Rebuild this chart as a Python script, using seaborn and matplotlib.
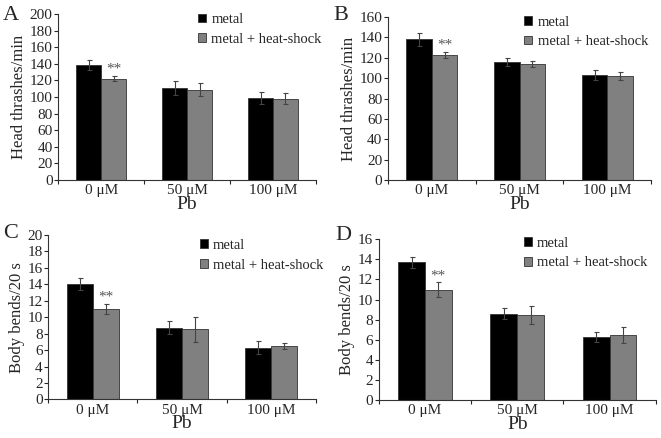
import pandas as pd
import matplotlib.pyplot as plt
import seaborn as sns
from matplotlib.ticker import FixedLocator

# Values
doses = ["0 μM", "50 μM", "100 μM"]
groups = ["metal", "metal + heat-shock"]

head_a_metal = [139, 111, 99]
head_a_metal_err = [6, 8, 7]
head_a_hs = [122, 109, 98]
head_a_hs_err = [3, 8, 7]

head_b_metal = [138, 116, 103]
head_b_metal_err = [6, 4, 5]
head_b_hs = [123, 114, 102]
head_b_hs_err = [3, 3, 4]

bends_c_metal = [14.0, 8.7, 6.3]
bends_c_metal_err = [0.7, 0.8, 0.8]
bends_c_hs = [11.0, 8.5, 6.5]
bends_c_hs_err = [0.6, 1.5, 0.4]

bends_d_metal = [13.7, 8.6, 6.3]
bends_d_metal_err = [0.55, 0.55, 0.5]
bends_d_hs = [11.0, 8.5, 6.5]
bends_d_hs_err = [0.7, 0.9, 0.8]

sns.set_theme(style="ticks")
serif = ["Liberation Serif", "DejaVu Serif"]
plt.rcParams["font.family"] = serif

fig = plt.figure(figsize=(6.61, 4.38), dpi=100)

# letter, axes rect, letter position, legend anchor, data..., ymax, step, ylabel
panels = [
    ("A", [0.088, 0.589, 0.390, 0.379], (0.004, 0.965), (1.045, 1.04), head_a_metal,
     head_a_metal_err, head_a_hs, head_a_hs_err, 200, 20, "Head thrashes/min"),
    ("B", [0.587, 0.589, 0.398, 0.372], (0.505, 0.965), (1.01, 1.045), head_b_metal,
     head_b_metal_err, head_b_hs, head_b_hs_err, 160, 20, "Head thrashes/min"),
    ("C", [0.073, 0.088, 0.405, 0.376], (0.004, 0.468), (1.05, 1.01), bends_c_metal,
     bends_c_metal_err, bends_c_hs, bends_c_hs_err, 20, 2, "Body bends/20 s"),
    ("D", [0.573, 0.086, 0.419, 0.368], (0.508, 0.462), (0.99, 1.05), bends_d_metal,
     bends_d_metal_err, bends_d_hs, bends_d_hs_err, 16, 2, "Body bends/20 s"),
]

for letter, rect, lpos, anchor, m, me, h, he, ymax, step, ylab in panels:
    ax = fig.add_axes(rect)
    df = pd.DataFrame({
        "dose": doses * 2,
        "group": [groups[0]] * 3 + [groups[1]] * 3,
        "value": m + h,
        "err": me + he,
    })
    sns.barplot(data=df, x="dose", y="value", hue="group", order=doses, hue_order=groups,
                palette=["black", "#808080"], width=0.58, errorbar=None,
                edgecolor="#333333", linewidth=0.6, ax=ax)
    # error bars at bar centres
    bars = ax.patches[:6]
    xs = [b.get_x() + b.get_width() / 2 for b in bars]
    ys = [b.get_height() for b in bars]
    ax.errorbar(xs, ys, yerr=df["err"], fmt="none", ecolor="#444444",
                elinewidth=0.8, capsize=1.8, capthick=0.8)
    # significance stars over the first heat-shock bar
    ax.text(xs[3], ys[3] + he[0] + ymax * 0.002, "**", ha="center", va="bottom",
            fontsize=11, color="#555555")

    ax.set_ylim(0, ymax)
    ax.set_yticks(range(0, ymax + 1, step))
    ax.set_xlim(-0.5, 2.5)
    ax.set_xlabel("Pb", fontsize=14, labelpad=-1)
    ax.set_ylabel(ylab, fontsize=12, labelpad=2)
    ax.tick_params(axis="y", labelsize=11, length=3, width=0.8, pad=1)
    ax.tick_params(axis="x", which="major", labelsize=11, length=0, pad=3)
    ax.xaxis.set_minor_locator(FixedLocator([-0.5, 0.5, 1.5, 2.5]))
    ax.tick_params(axis="x", which="minor", length=3, width=0.8)
    sns.despine(ax=ax)
    for s in ["left", "bottom"]:
        ax.spines[s].set_linewidth(0.8)
        ax.spines[s].set_color("#333333")

    ax.legend(loc="upper right", frameon=False, prop={"family": serif, "size": 10.5},
              handlelength=0.55, handleheight=0.55, handletextpad=0.35, labelspacing=0.45,
              bbox_to_anchor=anchor, borderaxespad=0)
    fig.text(lpos[0], lpos[1], letter, fontsize=16, ha="left", va="center")

fig.savefig("out.png", dpi=100)
